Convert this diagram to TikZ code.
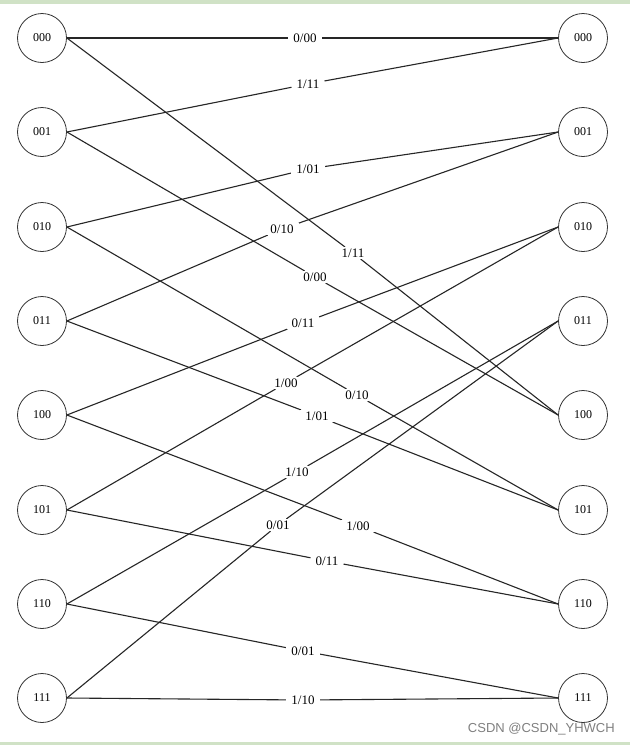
\documentclass[tikz,border=0pt]{standalone}
\usepackage{fontspec}
\setmainfont{Liberation Serif}
\newfontfamily\wmfont{Liberation Sans}
\pgfdeclarelayer{bg}
\pgfsetlayers{bg,main}
\definecolor{band}{RGB}{208,226,198}
\begin{document}
\begin{tikzpicture}[x=1pt,y=-1pt,
 state/.style={circle,draw=black!80,line width=0.8pt,minimum size=49pt,inner sep=0pt,font=\fontsize{12}{12}\selectfont},
 lab/.style={fill=white,inner xsep=5pt,inner ysep=1.5pt,font=\fontsize{13}{13}\selectfont},
 edge/.style={draw=black!85,line width=1.1pt}]
\useasboundingbox (0,0) rectangle (630,745);
\begin{pgfonlayer}{bg}
\fill[white] (0,0) rectangle (630,745);
\fill[band] (0,0) rectangle (630,3.5);
\fill[band] (0,742) rectangle (630,745);
\end{pgfonlayer}
% states
\node[state] (L0) at (42,38) {000};
\node[state] (L1) at (42,132) {001};
\node[state] (L2) at (42,227) {010};
\node[state] (L3) at (42,321) {011};
\node[state] (L4) at (42,415) {100};
\node[state] (L5) at (42,510) {101};
\node[state] (L6) at (42,604) {110};
\node[state] (L7) at (42,698) {111};
\node[state] (R0) at (583,38) {000};
\node[state] (R1) at (583,132) {001};
\node[state] (R2) at (583,227) {010};
\node[state] (R3) at (583,321) {011};
\node[state] (R4) at (583,415) {100};
\node[state] (R5) at (583,510) {101};
\node[state] (R6) at (583,604) {110};
\node[state] (R7) at (583,698) {111};
% labels
\node[lab] (e00) at (305,38) {0/00};
\node[lab] (e01) at (308,84) {1/11};
\node[lab] (e02) at (308,169) {1/01};
\node[lab] (e03) at (282,229) {0/10};
\node[lab] (e04) at (353,253) {1/11};
\node[lab] (e05) at (315,277) {0/00};
\node[lab] (e06) at (303,323) {0/11};
\node[lab] (e07) at (286,383) {1/00};
\node[lab] (e08) at (357,395) {0/10};
\node[lab] (e09) at (317,416) {1/01};
\node[lab] (e10) at (297,472) {1/10};
\node[lab] (e11) at (278,525) {0/01};
\node[lab] (e12) at (358,526) {1/00};
\node[lab] (e13) at (327,561) {0/11};
\node[lab] (e14) at (303,651) {0/01};
\node[lab] (e15) at (303,700) {1/10};
\begin{pgfonlayer}{bg}
\draw[edge] (L0.east) -- (e00) -- (R0.west);
\draw[edge] (L1.east) -- (e01) -- (R0.west);
\draw[edge] (L2.east) -- (e02) -- (R1.west);
\draw[edge] (L3.east) -- (e03) -- (R1.west);
\draw[edge] (L0.east) -- (e04) -- (R4.west);
\draw[edge] (L1.east) -- (e05) -- (R4.west);
\draw[edge] (L4.east) -- (e06) -- (R2.west);
\draw[edge] (L5.east) -- (e07) -- (R2.west);
\draw[edge] (L2.east) -- (e08) -- (R5.west);
\draw[edge] (L3.east) -- (e09) -- (R5.west);
\draw[edge] (L6.east) -- (e10) -- (R3.west);
\draw[edge] (L7.east) -- (e11) -- (R3.west);
\draw[edge] (L4.east) -- (e12) -- (R6.west);
\draw[edge] (L5.east) -- (e13) -- (R6.west);
\draw[edge] (L6.east) -- (e14) -- (R7.west);
\draw[edge] (L7.east) -- (e15) -- (R7.west);
\end{pgfonlayer}
\node[font=\wmfont\fontsize{13}{13}\selectfont, text=black!50, anchor=east, inner sep=0pt] (wm) at (615,729) {CSDN @CSDN\_YHWCH};
\end{tikzpicture}
\end{document}
